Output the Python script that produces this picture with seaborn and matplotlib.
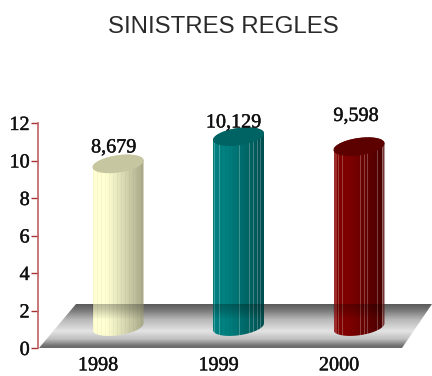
import numpy as np
import pandas as pd
import seaborn as sns
import matplotlib
matplotlib.use("Agg")
import matplotlib.pyplot as plt
import matplotlib.patheffects as pe
from matplotlib.colors import to_rgb
from matplotlib.patches import Polygon

years = ["1998", "1999", "2000"]
values = [8.679, 10.129, 9.598]
value_labels = ["8,679", "10,129", "9,598"]
title = "SINISTRES REGLES"
y_ticks = [0, 2, 4, 6, 8, 10, 12]
side_left = ["#ffffd2", "#008080", "#800000"]
side_right = ["#a9a98a", "#004f4f", "#470000"]
cap_colors = ["#c6c6a0", "#006363", "#5c0000"]
stripe_fracs = [[], [0.03, 0.12, 0.52, 0.72, 0.8, 0.88, 0.95],
                [0.08, 0.17, 0.52, 0.6, 0.66, 0.86, 0.96]]
label_heights = [10.67, 12.0, 12.35]
label_shift = [0.13, 0.125, 0.14]

W, H = 432, 376
PX_X, PX_Y = 120.5, 18.75
sns.set_theme(style="white")
plt.rcParams["font.family"] = ["Liberation Serif", "DejaVu Serif"]
fig = plt.figure(figsize=(W / 100, H / 100), dpi=100)
ax = fig.add_axes([38 / W, (H - 348) / H, (W - 38) / W, 225 / H])
df = pd.DataFrame({"year": years, "value": values})
BASE = 1.14
SHIFT = 20 / PX_X
sns.barplot(data=df, x="year", y="value", hue="year", palette=side_left, legend=False,
            width=51 / PX_X, bottom=BASE, ax=ax, errorbar=None)
xlim = (-60 / PX_X, (W - 98) / PX_X)
ax.set_xlim(*xlim)
ax.set_ylim(0, 12)

stops = np.array([0, 0.12, 0.35, 0.62, 0.8, 0.95, 1.0])
grey = np.array([0.36, 0.45, 0.72, 0.89, 0.75, 0.45, 0.42])
g_col = np.interp(np.linspace(0, 1, 64), stops, grey)
floor_h = 44 / PX_Y
floor_extent = (xlim[0], xlim[1], 0, floor_h)

floor = Polygon([(-59 / PX_X, 0), (-22 / PX_X, floor_h), (xlim[1], floor_h),
                 (304 / PX_X, 0)], closed=True, transform=ax.transData, fc="none", ec="none")
ax.add_patch(floor)
floor_im = ax.imshow(g_col[:, None], cmap="gray", vmin=0, vmax=1, aspect="auto", zorder=1,
                     extent=floor_extent, origin="upper")
floor_im.set_clip_path(floor)

a_half = 25.5 / PX_X
b_half = 8.7 / PX_Y
k_tilt = 3.3 / PX_Y


def ring(cx, cy, t):
    return cx + a_half * np.cos(t), cy + b_half * np.sin(t) + k_tilt * np.cos(t)


outline = [pe.withStroke(linewidth=0.3, foreground="#111111")]

for i, bar in enumerate(list(ax.patches)):
    if not isinstance(bar, matplotlib.patches.Rectangle):
        continue
    bar.set_visible(False)
    cx = bar.get_x() + bar.get_width() / 2 + SHIFT
    y0, y1 = BASE, BASE + values[i]
    xl, yl = ring(cx, y0, np.linspace(np.pi, 2 * np.pi, 60))
    xu, yu = ring(cx, y1, np.linspace(0, np.pi, 60))
    body = Polygon(np.column_stack([np.r_[xl, xu], np.r_[yl, yu]]), closed=True,
                   transform=ax.transData, fc="none", ec="none")
    ax.add_patch(body)
    n = 51
    f = np.linspace(0, 1, n)[:, None]
    c0, c1 = np.array(to_rgb(side_left[i])), np.array(to_rgb(side_right[i]))
    strip = c0 + (c1 - c0) * np.clip((f - 0.25) / 0.75, 0, 1) ** 1.1
    strip = strip * (1 - 0.03 * (np.arange(n) % 4 == 0))[:, None]
    for s in stripe_fracs[i]:
        j = int(s * (n - 1))
        strip[j] = strip[j] * 0.75 + 0.25
    if i == 2:
        strip[:3] = strip[:3] * 0.7 + 0.3 * np.array([0.9, 0.6, 0.6])
        strip[-3:] = strip[-3:] * 0.7 + 0.3 * np.array([0.9, 0.7, 0.7])
    img = ax.imshow(strip[None, :, :], aspect="auto", zorder=3, interpolation="nearest",
                    extent=(cx - a_half, cx + a_half, y0 - 1, y1 + 1))
    img.set_clip_path(body)
    # floor showing darkly through the translucent bar
    shade = np.zeros((64, 1, 4))
    shade[:, 0, 3] = np.clip(0.72 - g_col, 0, 1) * 0.75
    shade[40:, 0, 3] = 0
    over = ax.imshow(shade, aspect="auto", zorder=4, extent=floor_extent, origin="upper")
    over.set_clip_path(body)
    tx, ty = ring(cx, y1, np.linspace(0, 2 * np.pi, 120))
    ax.fill(tx, ty, color=cap_colors[i], zorder=5, lw=0)
    ax.text(i + label_shift[i], label_heights[i], value_labels[i], ha="center", va="center",
            fontsize=14.5, color="#111111", zorder=6, clip_on=False, path_effects=outline)

ax.set_xlim(*xlim)
ax.set_ylim(0, 12)
ax.set_xlabel("")
ax.set_ylabel("")
ax.set_yticks(y_ticks)
ax.tick_params(axis="y", length=5, width=1, color="#a83232", labelsize=14.5, pad=1,
               labelcolor="#111111", left=True)
ax.tick_params(axis="x", length=0, labelsize=14.5, pad=6, labelcolor="#111111")
for lab in ax.get_xticklabels() + ax.get_yticklabels():
    lab.set_path_effects(outline)
sns.despine(ax=ax, bottom=True, right=True, top=True)
ax.spines["left"].set_color("#c06060")
ax.spines["left"].set_linewidth(1.2)
ax.set_facecolor("none")
fig.text(223 / W, 1 - 27 / H, title, ha="center", va="center", fontsize=17.3,
         family="Liberation Sans", color="#2a2a2a")
fig.savefig("out.png", dpi=100)
